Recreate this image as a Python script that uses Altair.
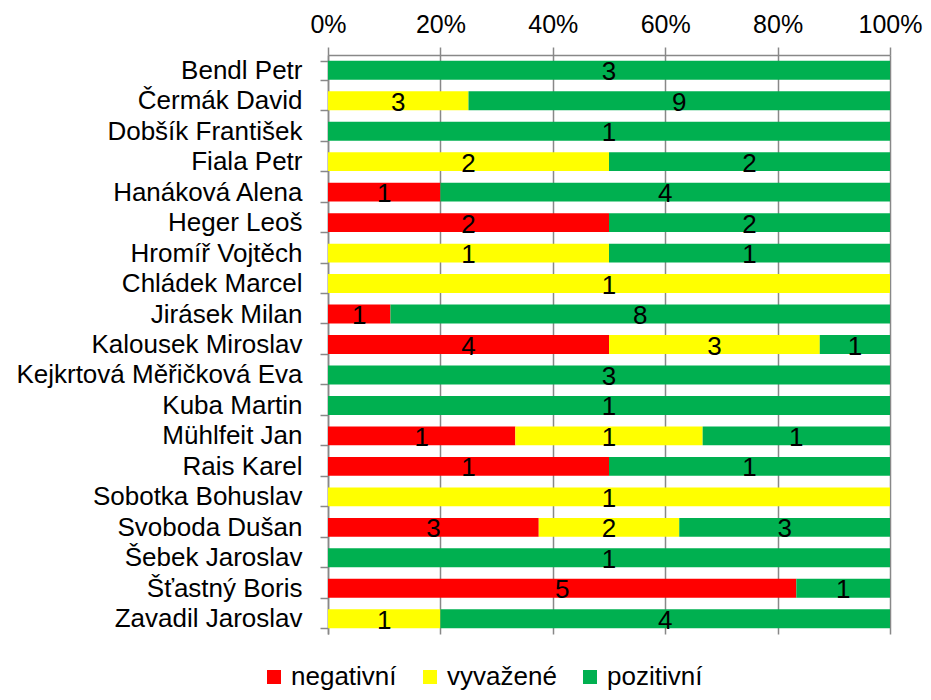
import altair as alt
import pandas as pd

names = ["Bendl Petr", "Čermák David", "Dobšík František", "Fiala Petr",
         "Hanáková Alena", "Heger Leoš", "Hromíř Vojtěch", "Chládek Marcel",
         "Jirásek Milan", "Kalousek Miroslav", "Kejkrtová Měřičková Eva",
         "Kuba Martin", "Mühlfeit Jan", "Rais Karel", "Sobotka Bohuslav",
         "Svoboda Dušan", "Šebek Jaroslav", "Šťastný Boris", "Zavadil Jaroslav"]
negativni = [0, 0, 0, 0, 1, 2, 0, 0, 1, 4, 0, 0, 1, 1, 0, 3, 0, 5, 0]
vyvazene  = [0, 3, 0, 2, 0, 0, 1, 1, 0, 3, 0, 0, 1, 0, 1, 2, 0, 0, 1]
pozitivni = [3, 9, 1, 2, 4, 2, 1, 0, 8, 1, 3, 1, 1, 1, 0, 3, 1, 1, 4]
categories = ["negativní", "vyvažené", "pozitivní"]
colors = ["#FF0000", "#FFFF00", "#00B050"]

rows = []
for i, n in enumerate(names):
    for k, (c, vals) in enumerate(zip(categories, [negativni, vyvazene, pozitivni])):
        if vals[i] > 0:
            rows.append({"name": n, "cat": c, "order": k, "count": vals[i]})
df = pd.DataFrame(rows)

FONT = "Liberation Sans"
FS = 26

base = alt.Chart(df).transform_stack(
    stack="count", as_=["s0", "s1"], groupby=["name"],
    offset="normalize", sort=[alt.SortField("order", order="ascending")]
).transform_calculate(mid="(datum.s0 + datum.s1) / 2")

yenc = alt.Y("name:N", sort=names, title=None,
             scale=alt.Scale(paddingInner=0.38, paddingOuter=0.19),
             axis=alt.Axis(labelFont=FONT, labelFontSize=FS, labelColor="black",
                           labelPadding=18, tickBand="extent", tickSize=8,
                           tickColor="#888888", tickWidth=1.5, domainColor="#888888",
                           domainWidth=1.5, grid=False, labelLimit=400))

bars = base.mark_bar(stroke=None).encode(
    x=alt.X("s0:Q", title=None, scale=alt.Scale(domain=[0, 1]),
            axis=alt.Axis(orient="top", format=".0%", values=[0, 0.2, 0.4, 0.6, 0.8, 1.0],
                          labelFont=FONT, labelFontSize=25, labelColor="black",
                          labelFlush=False, labelOverlap=False,
                          labelPadding=10, tickSize=8, tickColor="#888888", tickWidth=1.5,
                          domainColor="#888888", domainWidth=1.5,
                          grid=True, gridColor="#888888", gridWidth=1.5)),
    x2="s1:Q",
    y=yenc,
    color=alt.Color("cat:N", sort=categories, title=None,
                    scale=alt.Scale(domain=categories, range=colors),
                    legend=alt.Legend(orient="none", direction="horizontal",
                                      legendX=-67, legendY=609,
                                      symbolType="square", symbolSize=196,
                                      symbolStrokeWidth=0,
                                      labelFont=FONT, labelFontSize=FS,
                                      labelColor="black", columnPadding=20,
                                      labelOffset=4)),
    order=alt.Order("order:Q"),
)

labels = base.mark_text(font=FONT, fontSize=FS, color="black", baseline="middle", dy=2).encode(
    x=alt.X("mid:Q"),
    y=alt.Y("name:N", sort=names),
    text="count:Q",
)

chart = alt.layer(bars, labels).properties(
    width=562, height=579,
    autosize=alt.AutoSizeParams(type="none"),
    padding={"left": 320, "top": 47, "right": 33, "bottom": 58},
).configure_view(stroke=None)

chart.save("out.html", embed_options={"renderer": "svg", "actions": False})
